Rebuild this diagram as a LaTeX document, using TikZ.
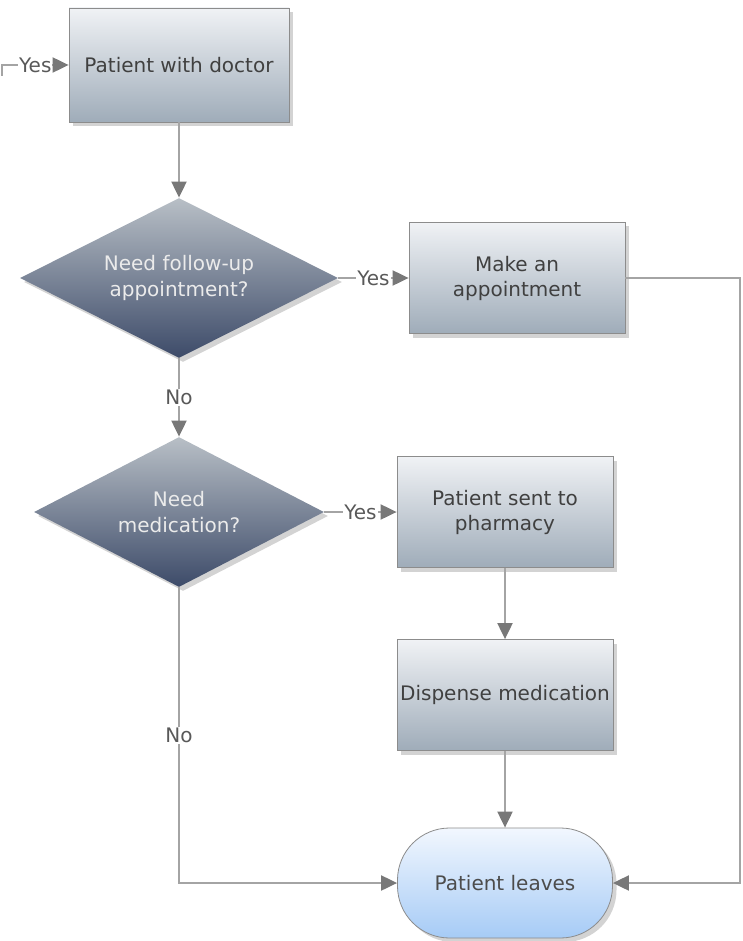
\documentclass[tikz,border=0pt]{standalone}
\usepackage{fontspec}
\setmainfont{DejaVu Sans}
\usetikzlibrary{shapes.geometric,shadows,arrows.meta}

\definecolor{boxtop}{HTML}{F0F2F5}
\definecolor{boxbot}{HTML}{9FACB9}
\definecolor{dectop}{HTML}{B8BFC6}
\definecolor{decbot}{HTML}{3D4B69}
\definecolor{endtop}{HTML}{F2F7FE}
\definecolor{endbot}{HTML}{A6CBF6}
\definecolor{linegray}{HTML}{A4A4A4}
\definecolor{tipgray}{HTML}{787878}

\tikzset{
    base/.style={draw=black!45, line width=0.8pt, align=center, font=\fontsize{20}{25}\selectfont,
        drop shadow={shadow xshift=4pt, shadow yshift=-4pt, opacity=0.35}},
    procbox/.style={base, rectangle, top color=boxtop, bottom color=boxbot, text=black!75,
        inner sep=2pt, minimum width=216pt, minimum height=111pt},
    decision/.style={base, diamond, aspect=2, draw=none, top color=dectop, bottom color=decbot,
        text=white!92!black, inner sep=0pt, font=\fontsize{20}{26}\selectfont},
    terminal/.style={base, rectangle, rounded corners=52pt, top color=endtop, bottom color=endbot,
        text=black!70, minimum width=215pt, minimum height=110pt},
    flow/.style={draw=linegray, line width=2pt, -{Triangle[length=16pt,width=15pt,color=tipgray]}},
    tag/.style={fill=white, inner sep=1pt, text=black!65, font=\fontsize{20}{24}\selectfont}
}

\begin{document}
\begin{tikzpicture}[x=1pt, y=-1pt]
    \useasboundingbox (0,0) rectangle (742,941);
    \node[procbox, minimum width=220pt, minimum height=114pt] at (179,65) (doc) {Patient with doctor};
    \node[decision, minimum width=318pt, minimum height=160pt] at (179,278) (followup) {Need follow-up\\appointment?};
    \node[procbox] at (517,278) (appt) {Make an\\appointment};
    \node[decision, minimum width=290pt, minimum height=150pt] at (179,512) (meds) {Need\\medication?};
    \node[procbox] at (505,512) (pharmacy) {Patient sent to\\pharmacy};
    \node[procbox] at (505,695) (dispense) {Dispense medication};
    \node[terminal] at (505,883) (leaves) {Patient leaves};

    \coordinate (entry) at (2,76);
    \coordinate (rim) at (740,278);
    \draw[flow] (entry) |- node[tag, pos=0.75] {Yes} (doc.west);
    \draw[flow] (doc) -- (followup);
    \draw[flow] (followup) -- node[tag] {Yes} (appt);
    \draw[flow] (followup) -- node[tag] {No} (meds);
    \draw[flow] (meds) -- node[tag] {Yes} (pharmacy);
    \draw[flow] (pharmacy) -- (dispense);
    \draw[flow] (dispense) -- (leaves);
    \draw[flow] (meds.south) |- node[tag, pos=0.25] {No} (leaves.west);
    \draw[flow] (appt.east) -- (rim) |- (leaves.east);
\end{tikzpicture}
\end{document}
